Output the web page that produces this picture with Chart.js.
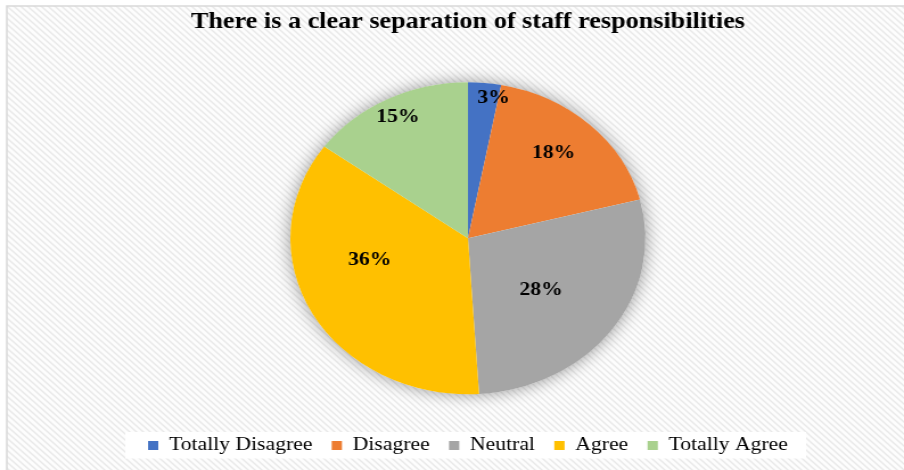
<!DOCTYPE html>
<html>
<head>
<meta charset="utf-8">
<title>Staff responsibilities</title>
<script src="https://cdn.jsdelivr.net/npm/chart.js@4.4.1/dist/chart.umd.min.js"></script>
<style>
    html, body { margin: 0; padding: 0; background: #fff; }
    /* the chart is drawn narrower and stretched to the page width */
    #staffChart { display: block; width: 904px; height: 470px; }
</style>
</head>
<body>
<canvas id="staffChart" width="794" height="470" style="width:904px;height:470px"></canvas>
<script>
// Survey answers
const categories = ['Totally Disagree', 'Disagree', 'Neutral', 'Agree', 'Totally Agree'];
const shares = [3, 18, 28, 36, 15];
const sliceColors = ['#4472C4', '#ED7D31', '#A5A5A5', '#FFC000', '#A9D18E'];

const serif = "'Liberation Serif', 'Times New Roman', Times, serif";

// Label placement inside each slice: angle nudge (deg) and fraction of radius
const labelPlacement = [
    { turn: 3.7, r: 0.91 },
    { turn: -1.9, r: 0.73 },
    { turn: 2.9, r: 0.53 },
    { turn: 14.7, r: 0.57 },
    { turn: 0, r: 0.87 }
];

// Hatched background tile
function makeHatch() {
    const tile = document.createElement('canvas');
    tile.width = 6;
    tile.height = 6;
    const t = tile.getContext('2d');
    t.fillStyle = '#fdfdfd';
    t.fillRect(0, 0, 6, 6);
    t.strokeStyle = '#e9e9e9';
    t.lineWidth = 1.4;
    t.beginPath();
    t.moveTo(-1, -1); t.lineTo(7, 7);
    t.moveTo(-1, 5); t.lineTo(1, 7);
    t.moveTo(5, -1); t.lineTo(7, 1);
    t.stroke();
    return tile;
}

const backdropPlugin = {
    id: 'backdrop',
    beforeDraw(chart) {
        const { ctx, width, height } = chart;
        ctx.save();
        ctx.fillStyle = '#fff';
        ctx.fillRect(0, 0, width, height);
        ctx.fillStyle = ctx.createPattern(makeHatch(), 'repeat');
        ctx.fillRect(6, 6, width, height);
        ctx.strokeStyle = '#d9d9d9';
        ctx.lineWidth = 1.5;
        ctx.strokeRect(6, 6, width + 10, height + 10);

        // white panel behind the legend
        const boxes = chart.legend && chart.legend.legendHitBoxes;
        if (boxes && boxes.length) {
            const left = Math.min(...boxes.map(b => b.left)) - 20;
            const right = Math.max(...boxes.map(b => b.left + b.width)) + 16;
            const top = boxes[0].top - 4;
            const bottom = boxes[0].top + boxes[0].height + 3.5;
            ctx.fillStyle = '#fff';
            ctx.fillRect(left, top, right - left, bottom - top);
        }
        ctx.restore();
    }
};

// soft halo under the pie
const haloPlugin = {
    id: 'halo',
    beforeDatasetsDraw(chart) {
        const arc = chart.getDatasetMeta(0).data[0];
        if (!arc) return;
        const ctx = chart.ctx;
        ctx.save();
        ctx.shadowColor = 'rgba(0, 0, 0, 0.4)';
        ctx.shadowBlur = 16;
        ctx.fillStyle = '#fff';
        ctx.beginPath();
        ctx.arc(arc.x, arc.y, arc.outerRadius, 0, Math.PI * 2);
        ctx.fill();
        ctx.restore();
    }
};

const sliceLabelPlugin = {
    id: 'sliceLabels',
    afterDatasetsDraw(chart) {
        const ctx = chart.ctx;
        const meta = chart.getDatasetMeta(0);
        ctx.save();
        ctx.font = 'bold 19px ' + serif;
        ctx.fillStyle = '#000';
        ctx.textAlign = 'center';
        ctx.textBaseline = 'middle';
        meta.data.forEach((arc, i) => {
            const place = labelPlacement[i];
            const mid = (arc.startAngle + arc.endAngle) / 2 + place.turn * Math.PI / 180;
            const r = arc.outerRadius * place.r;
            ctx.fillText(shares[i] + '%', arc.x + Math.cos(mid) * r, arc.y + Math.sin(mid) * r);
        });
        ctx.restore();
    }
};

new Chart(document.getElementById('staffChart'), {
    type: 'pie',
    data: {
        labels: categories,
        datasets: [{
            data: shares,
            backgroundColor: sliceColors,
            borderWidth: 0,
            radius: 156
        }]
    },
    options: {
        responsive: false,
        animation: false,
        layout: { padding: { left: 28, right: 0, top: 0, bottom: 5 } },
        plugins: {
            title: {
                display: true,
                text: 'There is a clear separation of staff responsibilities',
                color: '#000',
                font: { family: serif, size: 23, weight: 'bold' },
                padding: { top: 8, bottom: 22 }
            },
            legend: {
                position: 'bottom',
                labels: {
                    color: '#000',
                    boxWidth: 9,
                    boxHeight: 9,
                    padding: 17,
                    font: { family: serif, size: 19 }
                }
            },
            tooltip: { enabled: false }
        }
    },
    plugins: [backdropPlugin, haloPlugin, sliceLabelPlugin]
});
</script>
</body>
</html>
